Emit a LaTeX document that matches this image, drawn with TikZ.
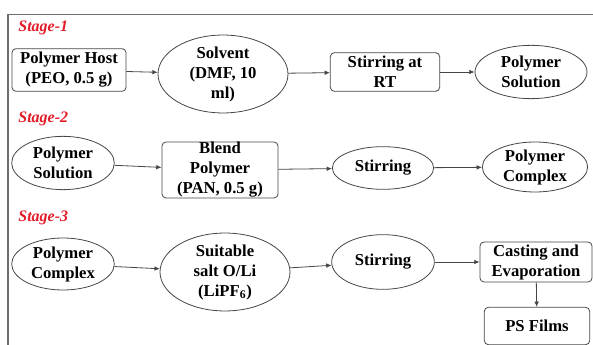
\documentclass[tikz,border=0pt]{standalone}
\usepackage{fontspec}
\setmainfont{Liberation Serif}
\usetikzlibrary{shapes.geometric,arrows.meta}

\definecolor{stagered}{RGB}{226,28,40}
\definecolor{framegray}{RGB}{110,110,110}
\definecolor{linegray}{RGB}{70,70,70}

\tikzset{every picture/.style={line width=0.6pt}}

\begin{document}
\begin{tikzpicture}[x=0.75pt,y=0.75pt,yscale=-1,
  stagelabel/.style={anchor=west,inner sep=0,text=stagered,font=\fontsize{12}{14}\selectfont\bfseries\itshape},
  procbox/.style={draw=linegray,rounded corners=3pt,align=center,inner sep=0,font=\fontsize{12.5}{15}\selectfont\bfseries},
  procell/.style={draw=linegray,ellipse,align=center,inner sep=0,font=\fontsize{12.5}{15}\selectfont\bfseries},
  flow/.style={draw=linegray,-{Latex[length=4pt,width=3.5pt]}}]
\useasboundingbox (0,0) rectangle (593,345);

%Frame
\draw [framegray,line width=1.3pt] (8,345) -- (8,14.5) -- (593,14.5) ;

% Stage labels
\node [stagelabel] (st1) at (18,28) {Stage-1};
\node [stagelabel] (st2) at (18,119) {Stage-2};
\node [stagelabel] (st3) at (18,218) {Stage-3};

% Stage 1
\node [procbox,minimum width=85.5pt,minimum height=32pt] (host) at (69,70) {Polymer Host\\(PEO, 0.5 g)};
\node [procell,minimum width=97.5pt,minimum height=51pt] (solv) at (223,74) {Solvent\\(DMF, 10\\ml)};
\node [procbox,minimum width=82pt,minimum height=29pt] (stirrt) at (385,72) {Stirring at\\RT};
\node [procell,minimum width=84pt,minimum height=40pt] (soln) at (531,72) {Polymer\\Solution};

% Stage 2
\node [procell,minimum width=77pt,minimum height=40pt] (solnb) at (63,163) {Polymer\\Solution};
\node [procbox,minimum width=87pt,minimum height=42pt] (blend) at (220,170) {Blend\\Polymer\\(PAN, 0.5 g)};
\node [procell,minimum width=76pt,minimum height=32pt] (stirb) at (383,168) {Stirring};
\node [procell,minimum width=79pt,minimum height=37.5pt] (comp) at (535,167) {Polymer\\Complex};

% Stage 3
\node [procell,minimum width=77pt,minimum height=39pt] (compc) at (63,264) {Polymer\\Complex};
\node [procell,minimum width=97.5pt,minimum height=53pt] (salt) at (225,272) {Suitable\\salt O/Li\\(LiPF\textsubscript{6})};
\node [procell,minimum width=77pt,minimum height=41pt] (stirc) at (383,262) {Stirring};
\node [procbox,minimum width=84pt,minimum height=30pt] (cast) at (536,262) {Casting and\\Evaporation};
\node [procbox,minimum width=79pt,minimum height=28pt] (films) at (537,326) {PS Films};

% Connectors
\draw [flow] (host) -- (solv) ;
\draw [flow] (solv) -- (stirrt) ;
\draw [flow] (stirrt) -- (soln) ;
\draw [flow] (solnb) -- (blend) ;
\draw [flow] (blend) -- (stirb) ;
\draw [flow] (stirb) -- (comp) ;
\draw [flow] (compc) -- (salt) ;
\draw [flow] (salt) -- (stirc) ;
\draw [flow] (stirc) -- (cast) ;
\draw [flow] (cast) -- (films) ;

\end{tikzpicture}
\end{document}
